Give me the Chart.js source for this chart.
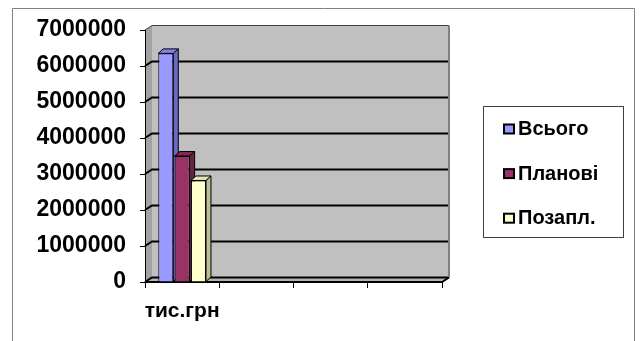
<!DOCTYPE html>
<html>
<head>
<meta charset="utf-8">
<script src="https://cdn.jsdelivr.net/npm/chart.js@4/dist/chart.umd.min.js"></script>
<style>
html, body { margin: 0; padding: 0; background: #ffffff; }
#wrap { width: 640px; height: 341px; position: relative; }
</style>
</head>
<body>
<div id="wrap"><canvas id="c"></canvas></div>
<script>
// ---- data ----
const categories = ['тис.грн', '', '', ''];
const seriesNames = ['Всього', 'Планові', 'Позапл.'];
const totalValues = [6350000, null, null, null];
const plannedValues = [3500000, null, null, null];
const unplannedValues = [2820000, null, null, null];
const yTickValues = [0, 1000000, 2000000, 3000000, 4000000, 5000000, 6000000, 7000000];

// ---- styles ----
const frontColors = ['#9999FF', '#993366', '#FFFFCC'];
const sideColors = ['#6A6AC6', '#6A2347', '#BDBD96'];
const topColors = ['#8282E6', '#7E2A55', '#E3E3B3'];
const DX = 7, DY = 4.5;     // wall depth offset
const BDX = 5, BDY = 4.5;   // bar depth offset
const FONT = '"Liberation Sans", Arial, Helvetica, sans-serif';

function poly(ctx, pts) {
  ctx.beginPath();
  ctx.moveTo(pts[0][0], pts[0][1]);
  for (let k = 1; k < pts.length; k++) ctx.lineTo(pts[k][0], pts[k][1]);
  ctx.closePath();
}

const threeD = {
  id: 'threeD',
  beforeDraw(chart) {
    const { ctx, chartArea: a } = chart;
    const y = chart.scales.y;
    ctx.save();
    // outer frame
    ctx.strokeStyle = '#808080';
    ctx.lineWidth = 1;
    ctx.beginPath();
    ctx.moveTo(12.5, 341); ctx.lineTo(12.5, 8.5); ctx.lineTo(634.5, 8.5); ctx.lineTo(634.5, 341);
    ctx.stroke();
    // back wall
    ctx.fillStyle = '#C0C0C0';
    ctx.fillRect(a.left + DX, a.top - DY, a.right - a.left, a.bottom - a.top);
    // left side wall
    ctx.fillStyle = '#A2A2A2';
    poly(ctx, [[a.left, a.top], [a.left + DX, a.top - DY], [a.left + DX, a.bottom - DY], [a.left, a.bottom]]);
    ctx.fill();
    // floor
    ctx.fillStyle = '#B4B4B4';
    poly(ctx, [[a.left, a.bottom], [a.left + DX, a.bottom - DY], [a.right + DX, a.bottom - DY], [a.right, a.bottom]]);
    ctx.fill();
    // gridlines on walls
    yTickValues.forEach((v, i) => {
      const py = y.getPixelForValue(v);
      const top = i === yTickValues.length - 1;
      ctx.strokeStyle = top ? '#404040' : '#000000';
      ctx.lineWidth = top ? 1 : 2;
      ctx.beginPath();
      ctx.moveTo(a.left, py);
      ctx.lineTo(a.left + DX, py - DY);
      ctx.lineTo(a.right + DX, py - DY);
      ctx.stroke();
    });
    // right edge of back wall
    ctx.strokeStyle = '#808080';
    ctx.lineWidth = 2;
    ctx.beginPath();
    ctx.moveTo(a.right + DX, a.top - DY);
    ctx.lineTo(a.right + DX, a.bottom - DY);
    ctx.stroke();
    // floor front edge + right diagonal
    ctx.strokeStyle = '#000000';
    ctx.lineWidth = 2;
    ctx.beginPath();
    ctx.moveTo(a.left, a.bottom);
    ctx.lineTo(a.right, a.bottom);
    ctx.lineTo(a.right + DX, a.bottom - DY);
    ctx.stroke();
    ctx.restore();
  },
  beforeDatasetsDraw(chart) {
    const ctx = chart.ctx;
    chart.data.datasets.forEach((ds, i) => {
      const meta = chart.getDatasetMeta(i);
      meta.data.forEach((el, j) => {
        if (ds.data[j] == null || !Number.isFinite(el.y)) return;
        el.draw(ctx);
        const l = el.x - el.width / 2, r = el.x + el.width / 2, t = el.y, b = el.base;
        ctx.save();
        ctx.lineWidth = 1;
        ctx.strokeStyle = '#000000';
        ctx.lineJoin = 'round';
        ctx.fillStyle = sideColors[i];
        poly(ctx, [[r, t], [r + BDX, t - BDY], [r + BDX, b - BDY], [r, b]]);
        ctx.fill(); ctx.stroke();
        ctx.fillStyle = topColors[i];
        poly(ctx, [[l, t], [l + BDX, t - BDY], [r + BDX, t - BDY], [r, t]]);
        ctx.fill(); ctx.stroke();
        ctx.restore();
      });
    });
    return false;
  },
  afterDraw(chart) {
    const ctx = chart.ctx;
    ctx.save();
    // legend box
    ctx.strokeStyle = '#404040';
    ctx.lineWidth = 1;
    ctx.strokeRect(483.5, 106.5, 140, 131);
    chart.data.datasets.forEach((ds, i) => {
      const cy = 129.5 + 44.6 * i;
      ctx.fillStyle = '#000000';
      ctx.fillRect(503, cy - 6, 12, 11);
      ctx.fillStyle = ds.backgroundColor;
      ctx.fillRect(505, cy - 4, 8, 7);
      ctx.fillStyle = '#000000';
      ctx.font = 'bold 20px ' + FONT;
      ctx.textAlign = 'left';
      ctx.textBaseline = 'middle';
      ctx.fillText(ds.label, 518, cy);
    });
    ctx.restore();
  }
};

Chart.defaults.font.family = FONT;

new Chart(document.getElementById('c'), {
  type: 'bar',
  data: {
    labels: categories,
    datasets: [
      { label: seriesNames[0], data: totalValues, backgroundColor: frontColors[0] },
      { label: seriesNames[1], data: plannedValues, backgroundColor: frontColors[1] },
      { label: seriesNames[2], data: unplannedValues, backgroundColor: frontColors[2] }
    ]
  },
  options: {
    responsive: true,
    maintainAspectRatio: false,
    animation: false,
    events: [],
    datasets: {
      bar: {
        borderColor: '#000000',
        borderWidth: 1,
        categoryPercentage: 0.66,
        barPercentage: 0.92
      }
    },
    layout: { padding: { top: 30, right: 198, left: 0, bottom: 0 } },
    plugins: { legend: { display: false }, tooltip: { enabled: false } },
    scales: {
      x: {
        type: 'category',
        offset: true,
        grid: { display: true, drawOnChartArea: false, drawTicks: true, tickLength: 6, color: '#000000', offset: true },
        border: { display: false },
        ticks: { font: { size: 21, weight: 'bold' }, color: '#000000', padding: 11, maxRotation: 0, autoSkip: false },
        afterFit(s) { s.height = 59; }
      },
      y: {
        min: 0,
        max: 7000000,
        afterBuildTicks(s) { s.ticks = yTickValues.map(v => ({ value: v })); },
        grid: { display: true, drawOnChartArea: false, drawTicks: true, tickLength: 5, color: '#000000' },
        border: { display: true, color: '#000000', width: 1 },
        ticks: { font: { size: 23, weight: 'bold' }, color: '#000000', padding: 14, callback: v => String(v) },
        afterFit(s) { s.width = 145; }
      }
    }
  },
  plugins: [threeD]
});
</script>
</body>
</html>
